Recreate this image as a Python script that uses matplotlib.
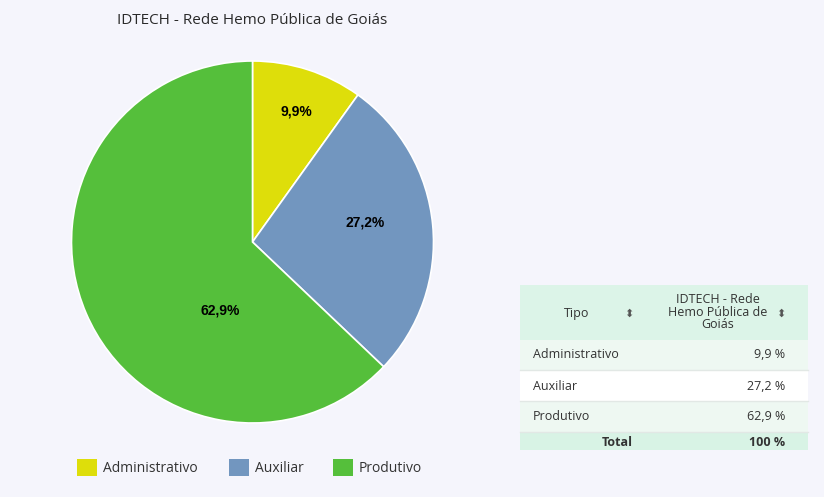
import matplotlib
matplotlib.use('Agg')
from matplotlib import pyplot as plt
from matplotlib.patches import Rectangle

# dados do gráfico
categorias = ['Administrativo', 'Auxiliar', 'Produtivo']
valores = [9.9, 27.2, 62.9]
cores = ['#dede0a', '#7296bf', '#55bf3b']
titulo = 'IDTECH - Rede Hemo Pública de Goiás'
total_txt = '100 %'

W, H = 824, 497
bg = '#f5f5fc'
txt = '#333333'
plt.rcParams['font.family'] = ['Open Sans', 'DejaVu Sans']


def fx(px):
    return px / W


def fy(py):
    return 1 - py / H


def fmt(v):
    return ('%.1f' % v).replace('.', ',')


fig = plt.figure(figsize=(W / 100, H / 100), dpi=100, facecolor=bg)

# titulo
fig.text(fx(252), fy(20), titulo, ha='center', va='center', fontsize=11,
         color='#2a2a2a')

# pizza
ax = fig.add_axes([fx(71), fy(423), fx(363), 362 / H])
ax.set_facecolor(bg)
wedges, _ = ax.pie(valores, colors=cores, startangle=90, counterclock=False,
                   radius=1, wedgeprops=dict(edgecolor='white', linewidth=1.2))
ax.set_xlim(-1.0, 1.0)
ax.set_ylim(-1.0, 1.0)
ax.set_aspect('equal')
ax.axis('off')

# posicao dos rotulos dentro das fatias
label_xy = [(0.24, 0.72), (0.62, 0.11), (-0.18, -0.38)]
for v, (lx, ly) in zip(valores, label_xy):
    ax.text(lx, ly, fmt(v) + '%', ha='center', va='center', fontsize=10,
            fontweight='bold', color='black',
            family=['Liberation Sans Narrow', 'Liberation Sans'])

# legenda
leg_x = [77, 229, 333]
for i, c in enumerate(categorias):
    fig.patches.append(Rectangle((fx(leg_x[i]), fy(476)), fx(20), 17 / H,
                                 transform=fig.transFigure, facecolor=cores[i],
                                 edgecolor='none'))
    fig.text(fx(leg_x[i] + 26), fy(468), c, ha='left', va='center',
             fontsize=10, color=txt)

# tabela
x0, x1 = 520, 808
rows = [(285, 340, '#dcf4e8'), (340, 370, '#eef8f2'), (370, 401, '#ffffff'),
        (401, 432, '#eef8f2'), (432, 450, '#d8f3e5')]
for top, bot, c in rows:
    fig.patches.append(Rectangle((fx(x0), fy(bot)), fx(x1 - x0), (bot - top) / H,
                                 transform=fig.transFigure, facecolor=c,
                                 edgecolor='none'))
for yl in [370, 401, 432]:
    fig.lines.append(plt.Line2D([fx(x0), fx(x1)], [fy(yl), fy(yl)],
                                transform=fig.transFigure, color='#e2e8e5', lw=1))

fig.text(fx(577), fy(314), 'Tipo', ha='center', va='center', fontsize=9, color=txt)
fig.text(fx(629), fy(314), '\u2b0d', ha='center', va='center', fontsize=8,
         color='#555555', family=['DejaVu Sans'])
fig.text(fx(718), fy(312), 'IDTECH - Rede\nHemo Pública de\nGoiás', ha='center',
         va='center', fontsize=9, color=txt, linespacing=0.95)
fig.text(fx(781), fy(314), '\u2b0d', ha='center', va='center', fontsize=8,
         color='#555555', family=['DejaVu Sans'])

row_y = [355, 386, 416]
for c, v, yy in zip(categorias, valores, row_y):
    fig.text(fx(533), fy(yy), c, ha='left', va='center', fontsize=9, color=txt)
    fig.text(fx(785), fy(yy), fmt(v) + ' %', ha='right', va='center',
             fontsize=9, color=txt)
fig.text(fx(617), fy(442), 'Total', ha='center', va='center', fontsize=9,
         fontweight='bold', color=txt)
fig.text(fx(785), fy(442), total_txt, ha='right', va='center', fontsize=9,
         fontweight='bold', color=txt)

fig.savefig('out.png', dpi=100, facecolor=bg)
